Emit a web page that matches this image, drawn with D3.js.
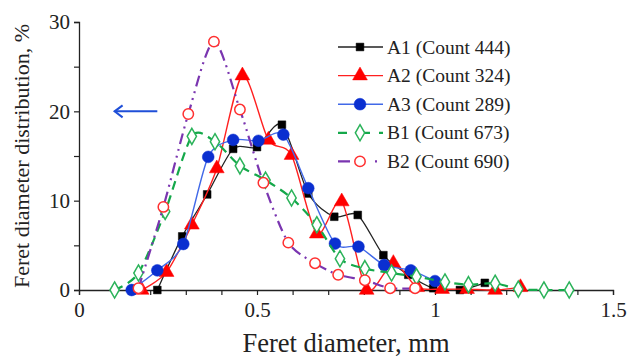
<!DOCTYPE html>
<html>
<head>
<meta charset="utf-8">
<script src="https://cdn.jsdelivr.net/npm/d3@7"></script>
<style>
  body { margin: 0; background: #fff; }
  text { font-family: "Liberation Serif", "Times New Roman", serif; fill: #222; }
</style>
</head>
<body>
<div id="chart"></div>
<script>
// Feret diameter (mm) and distribution (%) for each sample
var a1X = [0.22, 0.29, 0.36, 0.433, 0.50, 0.57, 0.644, 0.717, 0.783, 0.855, 0.925, 0.995, 1.07, 1.14];
var a1Y = [0, 6.0, 10.7, 15.8, 16.0, 18.5, 10.8, 8.2, 8.4, 3.9, 1.7, 0.2, 0, 0.8];

var a2X = [0.176, 0.246, 0.317, 0.387, 0.459, 0.532, 0.597, 0.668, 0.738, 0.808, 0.883, 0.95, 1.02, 1.09, 1.169, 1.24];
var a2Y = [0, 2.0, 7.3, 13.6, 24.0, 16.8, 15.1, 6.3, 9.9, 0, 3.0, 0.3, 0.1, 0.1, 0, 0.3];

var a3X = [0.148, 0.22, 0.293, 0.363, 0.433, 0.504, 0.574, 0.644, 0.719, 0.785, 0.857, 0.932, 1.0];
var a3Y = [0, 2.2, 5.15, 14.9, 16.8, 16.7, 17.4, 11.4, 5.2, 4.85, 2.8, 2.2, 1.0];

var b1X = [0.10, 0.167, 0.242, 0.317, 0.382, 0.452, 0.524, 0.597, 0.668, 0.733, 0.803, 0.878, 0.948, 1.028, 1.094, 1.169, 1.234, 1.306, 1.377];
var b1Y = [0, 1.9, 8.8, 17.2, 16.6, 13.9, 12.3, 10.3, 7.3, 3.5, 2.4, 1.9, 1.5, 0.9, 0.6, 0.75, 0.1, 0, 0];

var b2X = [0.167, 0.237, 0.307, 0.379, 0.452, 0.518, 0.588, 0.663, 0.728, 0.803, 0.874, 0.944];
var b2Y = [0.2, 9.3, 19.7, 27.8, 20.2, 12.0, 5.3, 3.0, 1.7, 1.1, 0.2, 0.2];

var seriesNames = ["A1 (Count 444)", "A2 (Count 324)", "A3 (Count 289)", "B1 (Count 673)", "B2 (Count 690)"];
var xTickLabels = [0, 0.5, 1, 1.5];
var yTickLabels = [0, 10, 20, 30];

const width = 634, height = 357;
const margin = {left: 79, right: 21, top: 22, bottom: 67};
const serif = "'Liberation Serif', 'Times New Roman', serif";

const svg = d3.select("#chart").append("svg")
    .attr("width", width)
    .attr("height", height);

const x = d3.scaleLinear().domain([0, 1.5]).range([margin.left, width - margin.right]);
const y = d3.scaleLinear().domain([0, 30]).range([height - margin.bottom, margin.top]);

// axes: minor ticks every 0.1 / 5, labels only on majors
const xAxis = svg.append("g")
    .attr("transform", "translate(0," + y(0) + ")")
    .call(d3.axisBottom(x).tickValues(d3.range(0, 1.5001, 0.1)).tickSize(5)
        .tickFormat(function(d) {
            var hit = xTickLabels.find(function(t) { return Math.abs(t - d) < 1e-6; });
            return hit === undefined ? "" : hit;
        }));
const yAxis = svg.append("g")
    .attr("transform", "translate(" + x(0) + ",0)")
    .call(d3.axisLeft(y).tickValues(d3.range(0, 30.001, 5)).tickSize(5)
        .tickFormat(function(d) { return yTickLabels.indexOf(d) >= 0 ? d : ""; }));

[xAxis, yAxis].forEach(function(ax) {
    ax.attr("font-family", serif);
    ax.select(".domain").attr("stroke", "#222").attr("stroke-width", 1.3);
    ax.selectAll(".tick line").attr("stroke", "#222").attr("stroke-width", 1.2);
    ax.selectAll(".tick text").style("font-family", serif).style("font-size", "21px").attr("fill", "#222");
});
xAxis.selectAll(".tick text").attr("dy", "0.9em");
yAxis.selectAll(".tick text").attr("dx", "-1px");

svg.append("text")
    .attr("x", 346)
    .attr("y", 352)
    .attr("text-anchor", "middle")
    .style("font-family", serif)
    .style("font-size", "26.5px")
    .text("Feret diameter, mm");

svg.append("text")
    .attr("transform", "translate(29," + ((margin.top + y(0)) / 2) + ") rotate(-90)")
    .attr("text-anchor", "middle")
    .style("font-family", serif)
    .style("font-size", "22px")
    .text("Feret diameter distribution, %");

// blue arrow pointing to the y axis
svg.append("line")
    .attr("x1", x(0.22)).attr("x2", x(0.10))
    .attr("y1", y(20)).attr("y2", y(20))
    .attr("stroke", "#1f4fd8").attr("stroke-width", 2);
svg.append("path")
    .attr("d", "M" + (x(0.10) + 8) + "," + (y(20) - 6) + " L" + x(0.10) + "," + y(20) + " L" + (x(0.10) + 8) + "," + (y(20) + 6))
    .attr("fill", "none").attr("stroke", "#1f4fd8").attr("stroke-width", 2);

const series = [
    {xs: a1X, ys: a1Y, line: "#222", dash: null, marker: "square", fill: "#000", stroke: "#000", lw: 1.3},
    {xs: a2X, ys: a2Y, line: "#ff2020", dash: null, marker: "triangle", fill: "#ff0000", stroke: "#ff0000", lw: 1.4},
    {xs: a3X, ys: a3Y, line: "#4169e8", dash: null, marker: "circle", fill: "#0a2fd0", stroke: "#0a2fd0", lw: 1.4},
    {xs: b1X, ys: b1Y, line: "#14a84a", dash: "9,6", marker: "diamond", fill: "#fff", stroke: "#2bb35a", lw: 2.2},
    {xs: b2X, ys: b2Y, line: "#7a35b0", dash: "11,5,2,5,2,5", marker: "circle", fill: "#fff", stroke: "#ff3030", lw: 2.2}
];

const symbols = {
    square: d3.symbol().type(d3.symbolSquare).size(60),
    triangle: d3.symbol().type(d3.symbolTriangle).size(95),
    circle: d3.symbol().type(d3.symbolCircle).size(110),
    diamond: d3.symbol().type(d3.symbolDiamond).size(75)
};
function sym(s) {
    if (s.marker === "circle" && s.fill === "#fff") return d3.symbol().type(d3.symbolCircle).size(85)();
    return symbols[s.marker]();
}

const line = d3.line().curve(d3.curveCardinal.tension(0.2))
    .x(function(d) { return x(d[0]); })
    .y(function(d) { return y(d[1]); });

const plot = svg.append("g");
series.forEach(function(s) {
    var pts = s.xs.map(function(v, i) { return [v, s.ys[i]]; });
    var g = plot.append("g");
    g.append("path")
        .attr("d", line(pts))
        .attr("fill", "none")
        .attr("stroke", s.line)
        .attr("stroke-width", s.lw)
        .attr("stroke-dasharray", s.dash);
    g.selectAll("path.pt")
        .data(pts)
        .enter().append("path")
        .attr("class", "pt")
        .attr("d", sym(s))
        .attr("transform", function(d) { return "translate(" + x(d[0]) + "," + y(d[1]) + ")"; })
        .attr("fill", s.fill)
        .attr("stroke", s.stroke)
        .attr("stroke-width", s.fill === "#fff" ? 1.5 : 0.5);
});

// legend
const legend = svg.append("g").attr("transform", "translate(338,47)");
series.forEach(function(s, i) {
    var g = legend.append("g").attr("transform", "translate(0," + (i * 28.6) + ")");
    g.append("line")
        .attr("x1", 0).attr("x2", 45).attr("y1", 0).attr("y2", 0)
        .attr("stroke", s.line).attr("stroke-width", s.lw)
        .attr("stroke-dasharray", s.dash ? (i === 3 ? "9,14,9" : "12,25,2") : null);
    g.append("path")
        .attr("d", sym(s))
        .attr("transform", "translate(22,0)")
        .attr("fill", s.fill).attr("stroke", s.stroke)
        .attr("stroke-width", s.fill === "#fff" ? 1.5 : 0.5);
    g.append("text")
        .attr("x", 49).attr("y", 6.5)
        .style("font-family", serif)
        .style("font-size", "19.5px")
        .text(seriesNames[i]);
});
</script>
</body>
</html>
